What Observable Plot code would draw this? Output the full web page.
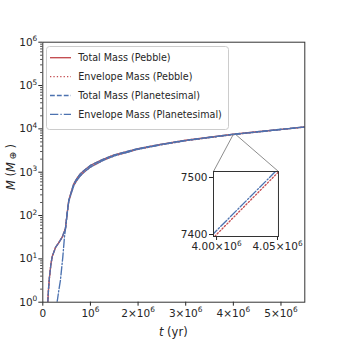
<!DOCTYPE html>
<html><head><meta charset="utf-8">
<script src="https://cdn.jsdelivr.net/npm/d3@7"></script>
<script src="https://cdn.jsdelivr.net/npm/@observablehq/plot@0.6"></script>
<style>
html,body{margin:0;padding:0;background:#fff;}
#chart{position:relative;width:339px;height:339px;overflow:hidden;font-family:"DejaVu Sans",sans-serif;}
#chart svg{position:absolute;}
</style></head><body><div id="chart"></div>
<script>
// ---- data ----
const timeYr = [0.105e6, 0.12e6, 0.14e6, 0.17e6, 0.2e6, 0.27e6, 0.34e6, 0.41e6, 0.475e6, 0.51e6, 0.545e6, 0.6e6, 0.65e6, 0.72e6, 0.79e6, 0.86e6, 0.93e6, 1.0e6, 1.25e6, 1.5e6, 2.0e6, 2.5e6, 3.0e6, 3.5e6, 4.0e6, 4.05e6, 4.5e6, 5.0e6, 5.5e6];
const totalPebble = [1, 2, 3.8, 7.5, 11.5, 18.6, 24, 32, 50, 110, 223, 360, 540, 730, 920, 1080, 1250, 1430, 1950, 2500, 3500, 4450, 5450, 6420, 7520, 7628, 8570, 9770, 11120];
const envelopePebble = [1, 2, 3.8, 7.5, 11.5, 18.6, 24, 32, 50, 110, 213, 330, 490, 660, 830, 980, 1140, 1310, 1830, 2380, 3380, 4330, 5330, 6300, 7400, 7508, 8450, 9650, 11000];
const totalPlanetesimal = [1, 2, 3.8, 7.5, 11.5, 18.6, 24, 32, 50, 110, 223, 360, 540, 730, 920, 1080, 1250, 1435, 1955, 2505, 3505, 4455, 5456, 6426, 7527, 7634, 8577, 9777, 11127];
const timeEnvPlanetesimalYr = [0.30e6, 0.34e6, 0.37e6, 0.42e6, 0.455e6, 0.49e6, 0.51e6, 0.545e6, 0.6e6, 0.65e6, 0.72e6, 0.79e6, 0.86e6, 0.93e6, 1.0e6, 1.25e6, 1.5e6, 2.0e6, 2.5e6, 3.0e6, 3.5e6, 4.0e6, 4.05e6, 4.5e6, 5.0e6, 5.5e6];
const envelopePlanetesimal = [1, 2, 3.2, 11, 32, 65, 105, 213, 330, 490, 660, 830, 980, 1140, 1315, 1836, 2386, 3386, 4336, 5337, 6306, 7407, 7514, 8457, 9657, 11007];

const seriesNames = ["Total Mass (Pebble)", "Envelope Mass (Pebble)", "Total Mass (Planetesimal)", "Envelope Mass (Planetesimal)"];
const seriesTimes = [timeYr, timeYr, timeYr, timeEnvPlanetesimalYr];
const seriesValues = [totalPebble, envelopePebble, totalPlanetesimal, envelopePlanetesimal];
const seriesColors = ["#c44e52", "#c44e52", "#4c72b0", "#4c72b0"];
const seriesDash = [null, "1.3,2.1", "4.8,2.1", "8.3,2.1,1.3,2.1"];

const xTicks = [0, 1e6, 2e6, 3e6, 4e6, 5e6];
const yTicks = [1, 10, 100, 1e3, 1e4, 1e5, 1e6];
const xDomain = [0, 5.5e6];
const yDomain = [1, 1e6];

const insetXTicks = [4.00e6, 4.05e6];
const insetYTicks = [7400, 7500];
const insetXDomain = [3.9975e6, 4.0508e6];
const insetYDomain = [7396.5, 7510.5];
// where the inset sits, in the main chart's data units
const insetBox = {x1: 3.583e6, x2: 4.947e6, y1: 32.8, y2: 1038};

// ---- helpers ----
const SUP = {"0":"⁰","1":"¹","2":"²","3":"³","4":"⁴","5":"⁵","6":"⁶","7":"⁷","8":"⁸","9":"⁹","-":"⁻"};
const UNSUP = Object.fromEntries(Object.entries(SUP).map(([a, b]) => [b, a]));
const sup = s => String(s).split("").map(c => SUP[c] || c).join("");
const fmtPow = v => "10" + sup(Math.round(Math.log10(v)));
const fmtX = v => v === 0 ? "0" : (v / 1e6 === 1 ? "10" + sup(6) : `${v / 1e6}×10${sup(6)}`);
const fmtInsetX = v => `${(v / 1e6).toFixed(2)}×10${sup(6)}`;
const yMinor = [];
for (let e = 0; e < 6; e++) for (let k = 2; k <= 9; k++) yMinor.push(k * 10 ** e);

const series = seriesNames.map((name, i) => ({
  name, color: seriesColors[i], dash: seriesDash[i],
  rows: seriesTimes[i].map((t, j) => ({t, m: seriesValues[i][j]}))
}));
const LW = 1.35;
const lineMarks = (clip) => series.map(s => Plot.line(s.rows, {
  x: "t", y: "m", stroke: s.color, strokeWidth: LW,
  strokeDasharray: s.dash, clip
}));

// turn unicode superscripts into raised tspans (mathtext look)
function raiseExponents(svgEl) {
  const re = /[⁰¹²³⁴⁵⁶⁷⁸⁹⁻]+$/;
  svgEl.querySelectorAll("text").forEach(t => {
    const targets = t.querySelectorAll("tspan").length ? Array.from(t.querySelectorAll("tspan")) : [t];
    targets.forEach(el => {
      const s = el.textContent;
      const m = s.match(re);
      if (!m) return;
      const base = s.slice(0, m.index);
      const exp = m[0].split("").map(c => UNSUP[c]).join("");
      el.textContent = "";
      el.appendChild(document.createTextNode(base));
      const ts = document.createElementNS("http://www.w3.org/2000/svg", "tspan");
      ts.setAttribute("font-size", "7.4");
      ts.setAttribute("dy", "-4.2");
      ts.textContent = exp;
      el.appendChild(ts);
    });
  });
}

const font = "'DejaVu Sans', sans-serif";
const W = 339, H = 339;
const mL = 42.3, mR = 34.7, mT = 41.7, mB = 37.3;

const connectors = [
  {x1: insetXDomain[0], y1: insetYDomain[0], x2: insetBox.x1, y2: insetBox.y2},
  {x1: insetXDomain[1], y1: insetYDomain[0], x2: insetBox.x2, y2: insetBox.y2}
];

const main = Plot.plot({
  width: W, height: H, marginLeft: mL, marginRight: mR, marginTop: mT, marginBottom: mB,
  x: {domain: xDomain},
  y: {type: "log", domain: yDomain},
  style: {fontFamily: font, fontSize: "10.5px", color: "#262626", background: "transparent"},
  marks: [
    Plot.axisY({ticks: yMinor, tickFormat: () => "", tickSize: 2.2, label: null, strokeWidth: 0.8}),
    Plot.axisY({ticks: yTicks, tickFormat: fmtPow, tickSize: 4, tickPadding: 1.5, label: null, fontSize: 10.5}),
    Plot.axisX({ticks: xTicks, tickFormat: fmtX, tickSize: 4, tickPadding: 3, label: null, fontSize: 10.5}),
    ...lineMarks(true),
    Plot.link(connectors, {x1: "x1", y1: "y1", x2: "x2", y2: "y2", stroke: "#808080", strokeWidth: 0.9}),
    Plot.frame({stroke: "#333", strokeWidth: 1})
  ]
});
main.style.left = "0px"; main.style.top = "0px";
const chart = document.getElementById("chart");
chart.appendChild(main);
raiseExponents(main);

// axis labels (mathtext-like)
const svg = d3.select(main);
const xl = svg.append("text").attr("x", (mL + W - mR) / 2).attr("y", 335.5)
  .attr("text-anchor", "middle").attr("font-size", 11.5).attr("fill", "#262626").attr("font-family", font);
xl.append("tspan").attr("font-style", "italic").text("t");
xl.append("tspan").text(" (yr)");
const yl = svg.append("text").attr("transform", `translate(14.5,167) rotate(-90)`)
  .attr("text-anchor", "middle").attr("font-size", 11.5).attr("fill", "#262626").attr("font-family", font);
yl.append("tspan").attr("font-style", "italic").text("M");
yl.append("tspan").text(" (");
yl.append("tspan").attr("font-style", "italic").text("M");
yl.append("tspan").attr("font-size", 9.5).attr("dx", 2.5).attr("dy", 1.5).text("⊕");
yl.append("tspan").attr("dx", 3).attr("dy", -1.5).text(")");

// ---- inset ----
const sx = main.scale("x"), sy = main.scale("y");
const px = d3.scaleLinear(sx.domain, sx.range);
const py = d3.scaleLog(sy.domain, sy.range);
const ixl = px(insetBox.x1), ixr = px(insetBox.x2), iyt = py(insetBox.y2), iyb = py(insetBox.y1);
const imL = 34, imR = 32, imT = 4, imB = 24;
const inset = Plot.plot({
  width: (ixr - ixl) + imL + imR, height: (iyb - iyt) + imT + imB,
  marginLeft: imL, marginRight: imR, marginTop: imT, marginBottom: imB,
  x: {domain: insetXDomain}, y: {domain: insetYDomain},
  style: {fontFamily: font, fontSize: "10.5px", color: "#262626", background: "transparent"},
  marks: [
    Plot.frame({fill: "white"}),
    ...lineMarks(true),
    Plot.axisX({ticks: insetXTicks, tickFormat: fmtInsetX, tickSize: 4, tickPadding: 2.5, label: null, fontSize: 10.5}),
    Plot.axisY({ticks: insetYTicks, tickFormat: d => String(d), tickSize: 4, tickPadding: 2, label: null, fontSize: 10.5}),
    Plot.frame({stroke: "#333", strokeWidth: 1})
  ]
});
inset.style.left = (ixl - imL) + "px"; inset.style.top = (iyt - imT) + "px";
chart.appendChild(inset);
raiseExponents(inset);

// ---- legend ----
const lg = d3.select(chart).append("svg")
  .attr("width", 184).attr("height", 85)
  .style("left", "46px").style("top", "46px");
lg.append("rect").attr("x", 0.5).attr("y", 0.5).attr("width", 182).attr("height", 83).attr("rx", 3)
  .attr("fill", "white").attr("fill-opacity", 0.85).attr("stroke", "#cccccc").attr("stroke-width", 1);
series.forEach((s, i) => {
  const y = 11.7 + i * 18.9;
  lg.append("line").attr("x1", 4).attr("x2", 25).attr("y1", y).attr("y2", y)
    .attr("stroke", s.color).attr("stroke-width", LW).attr("stroke-dasharray", s.dash);
  lg.append("text").attr("x", 32.3).attr("y", y).attr("dy", "0.35em")
    .attr("font-size", 9.6).attr("font-family", font).attr("fill", "#262626").text(s.name);
});
</script></body></html>
